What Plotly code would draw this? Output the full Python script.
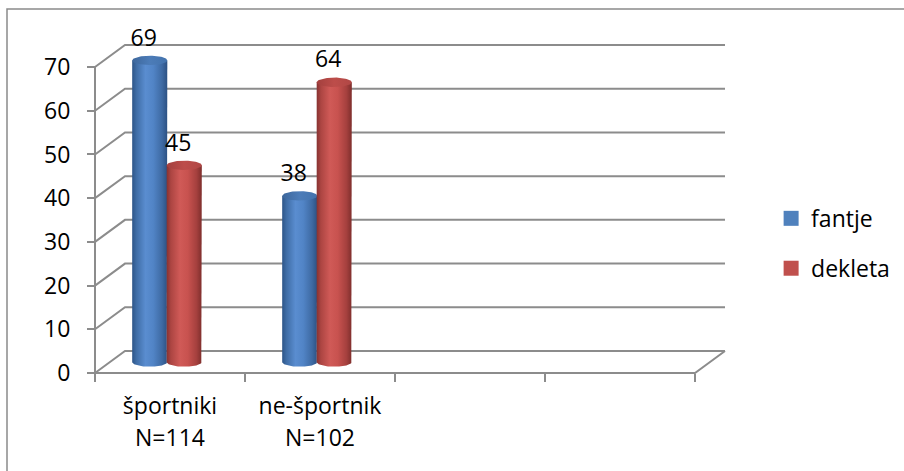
import numpy as np
import plotly.graph_objects as go

# ---------------- data ----------------
cat_line1 = ["športniki", "ne-športnik"]
cat_line2 = ["N=114", "N=102"]
series_names = ["fantje", "dekleta"]
fantje = [69, 38]
dekleta = [45, 64]
y_ticks = [0, 10, 20, 30, 40, 50, 60, 70]
n_slots = 4  # category slots on the floor (two are empty)

# ---------------- layout constants ----------------
W, H = 904, 471
X0_PX, Y0_PX = 95, 373          # pixel of (x=0, y=0) on front face
PX_PER_CAT = 150
PX_PER_UNIT = 4.371
DEPTH_X = 30 / PX_PER_CAT       # depth shift in category units
DEPTH_Y = 22 / PX_PER_UNIT      # depth shift in value units
x_range = [-X0_PX / PX_PER_CAT, (W - X0_PX) / PX_PER_CAT]
y_range = [(Y0_PX - H) / PX_PER_UNIT, Y0_PX / PX_PER_UNIT]

FONT = "Open Sans"
FSIZE = 23
GRID = "#8c8c8c"

series_vals = [fantje, dekleta]
series_offset = [0.265, 0.495]   # front-x offset of each series inside a slot
BAR_HALF = 0.117
ELL_H = 1.075
label_dx, label_dy = -0.04, 4.7

body_scales = [
    [[0, "#2d5588"], [0.12, "#3f6da6"], [0.38, "#5a8dd0"], [0.6, "#5184c6"], [0.85, "#3e6aa3"], [1, "#2c5183"]],
    [[0, "#873231"], [0.12, "#ac4542"], [0.38, "#d05a57"], [0.6, "#c8524f"], [0.85, "#a5403e"], [1, "#7e2e2c"]],
]
top_scales = [
    [[0, "#3d679c"], [0.5, "#4c7cb8"], [1, "#4373ad"]],
    [[0, "#a3403e"], [0.5, "#bd4d4a"], [1, "#b04745"]],
]
legend_colors = ["#4F81BD", "#C0504D"]

fig = go.Figure()

# ---------------- walls / gridlines ----------------
gx, gy = [], []
for v in y_ticks:
    gx += [0, DEPTH_X, n_slots + DEPTH_X, None]
    gy += [v, v + DEPTH_Y, v + DEPTH_Y, None]
# front floor edge, right floor edge, front axis line
gx += [0, n_slots, n_slots + DEPTH_X, None, 0, 0, None]
gy += [0, 0, DEPTH_Y, None, 0, y_ticks[-1], None]
fig.add_trace(go.Scatter(x=gx, y=gy, mode="lines", line=dict(color=GRID, width=2),
                         hoverinfo="skip", showlegend=False))

# ---------------- cylinders ----------------
base = DEPTH_Y / 2
th_half = np.linspace(0, np.pi, 40)
th_full = np.linspace(0, 2 * np.pi, 80)
lab_x, lab_y, lab_t = [], [], []
for ci in range(len(cat_line1)):
    for si in range(len(series_vals)):
        val = series_vals[si][ci]
        xc = ci + series_offset[si] + DEPTH_X / 2
        top = base + val
        bx = [xc - BAR_HALF, xc - BAR_HALF, xc + BAR_HALF, xc + BAR_HALF] + list(xc + BAR_HALF * np.cos(th_half))
        by = [base, top, top, base] + list(base - ELL_H * np.sin(th_half))
        fig.add_trace(go.Scatter(
            x=bx, y=by, mode="lines", fill="toself", line=dict(width=0),
            fillgradient=dict(type="horizontal", colorscale=body_scales[si],
                              start=xc - BAR_HALF, stop=xc + BAR_HALF),
            hoverinfo="skip", showlegend=False))
        tx = list(xc + BAR_HALF * np.cos(th_full))
        ty = list(top + ELL_H * np.sin(th_full))
        fig.add_trace(go.Scatter(
            x=tx, y=ty, mode="lines", fill="toself", line=dict(width=0),
            fillgradient=dict(type="horizontal", colorscale=top_scales[si],
                              start=xc - BAR_HALF, stop=xc + BAR_HALF),
            hoverinfo="skip", showlegend=False))
        lab_x.append(xc + label_dx)
        lab_y.append(top + label_dy)
        lab_t.append(str(val))

fig.add_trace(go.Scatter(x=lab_x, y=lab_y, text=lab_t, mode="text",
                         textfont=dict(family=FONT, size=FSIZE, color="black"),
                         textposition="middle center", cliponaxis=False,
                         hoverinfo="skip", showlegend=False))

# ---------------- category labels ----------------
cx = [i + 0.5 for i in range(len(cat_line1))]
fig.add_trace(go.Scatter(x=cx + cx, y=[-8.0] * len(cx) + [-15.4] * len(cx),
                         text=cat_line1 + cat_line2, mode="text",
                         textfont=dict(family=FONT, size=FSIZE, color="black"),
                         textposition="middle center", cliponaxis=False,
                         hoverinfo="skip", showlegend=False))

# ---------------- legend entries ----------------
for si, name in enumerate(series_names):
    fig.add_trace(go.Scatter(x=[None], y=[None], mode="markers", name=name,
                             legendgroup=name,
                             marker=dict(symbol="square", size=15, color=legend_colors[si])))

fig.update_layout(
    width=W, height=H, margin=dict(l=0, r=0, t=0, b=0),
    paper_bgcolor="white", plot_bgcolor="white",
    font=dict(family=FONT, size=FSIZE, color="black"),
    xaxis=dict(range=x_range, domain=[0, 1], anchor="free", position=(H - Y0_PX) / H,
               tickvals=list(range(n_slots + 1)), showticklabels=False,
               ticks="outside", ticklen=8, tickwidth=2, tickcolor=GRID,
               showgrid=False, zeroline=False, showline=False, fixedrange=True),
    yaxis=dict(range=y_range, domain=[0, 1], anchor="free", position=X0_PX / W,
               tickvals=y_ticks, ticks="outside", ticklen=8, tickwidth=2, tickcolor=GRID,
               ticklabelstandoff=12,
               showgrid=False, zeroline=False, showline=False, fixedrange=True),
    legend=dict(x=0.853, y=0.582, xanchor="left", yanchor="top",
                font=dict(family=FONT, size=FSIZE), tracegroupgap=17,
                bgcolor="rgba(0,0,0,0)"),
    shapes=[dict(type="rect", xref="paper", yref="paper",
                 x0=7 / W, x1=1.01, y0=-0.01, y1=1 - 9 / H,
                 line=dict(color="#8a8a8a", width=1.5), fillcolor="rgba(0,0,0,0)",
                 layer="below")],
)

fig.write_html("out.html")
